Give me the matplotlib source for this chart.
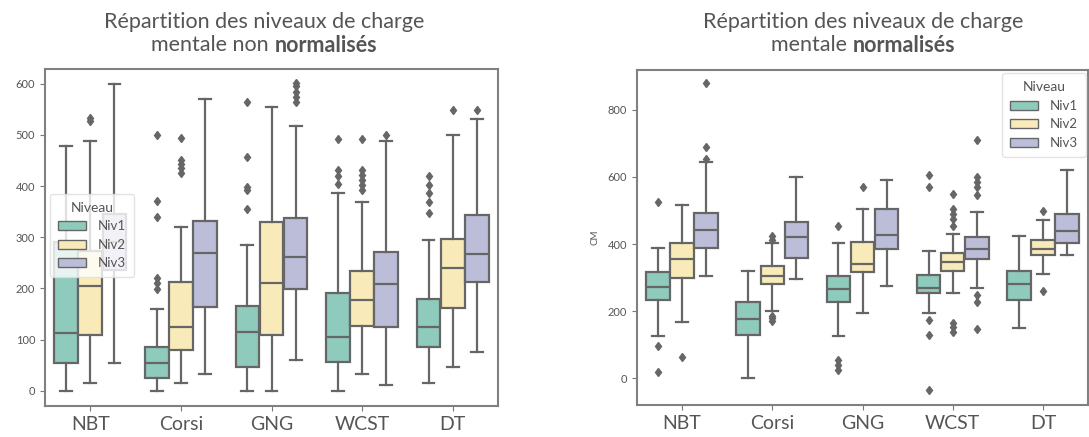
import matplotlib
matplotlib.use("Agg")
import matplotlib.pyplot as plt
from matplotlib.patches import Patch

# categories / levels
categories = ["NBT", "Corsi", "GNG", "WCST", "DT"]
levels = ["Niv1", "Niv2", "Niv3"]

# --- non normalised data (rows = Niv1, Niv2, Niv3 ; cols = categories) ---
raw_low = [[0, 0, 0, 0, 14],
           [14, 14, 0, 33, 46],
           [54, 33, 59, 12, 76]]
raw_q1 = [[54, 25, 47, 57, 85],
          [109, 80, 109, 127, 162],
          [235, 163, 199, 124, 212]]
raw_med = [[113, 54, 114, 105, 125],
           [204, 124, 210, 178, 240],
           [290, 270, 261, 209, 268]]
raw_q3 = [[290, 86, 165, 190, 179],
          [273, 212, 329, 234, 296],
          [345, 331, 338, 271, 343]]
raw_high = [[479, 160, 284, 386, 295],
            [488, 320, 554, 369, 500],
            [600, 570, 518, 488, 531]]
raw_fliers = [[[], [199, 210, 220, 340, 371, 500], [356, 392, 399, 457, 565], [405, 420, 432, 492], [348, 369, 386, 402, 420]],
              [[527, 533], [425, 435, 443, 452, 495], [], [392, 402, 412, 422, 431, 492], [549]],
              [[], [], [565, 575, 585, 595, 602], [500], [549]]]

# --- normalised data ---
norm_low = [[126, 0, 126, 194, 151],
            [169, 199, 194, 254, 310],
            [304, 297, 275, 269, 368]]
norm_q1 = [[234, 129, 226, 255, 234],
           [299, 282, 316, 321, 367],
           [389, 359, 386, 356, 403]]
norm_med = [[272, 176, 267, 268, 282],
            [356, 304, 341, 346, 385],
            [442, 421, 428, 385, 438]]
norm_q3 = [[317, 227, 306, 308, 320],
           [402, 334, 405, 374, 413],
           [492, 466, 503, 420, 490]]
norm_high = [[387, 321, 403, 378, 423],
             [516, 404, 505, 430, 473],
             [646, 601, 592, 497, 620]]
norm_fliers = [[[18, 96, 526], [], [25, 40, 54, 455], [-34, 129, 172, 571, 607], []],
               [[64], [170, 178, 186, 413, 423], [570], [139, 152, 164, 454, 474, 489, 504, 549], [260, 500]],
               [[654, 688, 879], [], [], [146, 227, 247, 545, 570, 585, 600, 710], []]]

palette = ["#8ecbbc", "#f9ebb9", "#bcbed9"]
line_col = "#666666"
text_col = "#555555"
plt.rcParams["font.family"] = ["Lato", "DejaVu Sans"]


def draw_boxes(ax, low, q1, med, q3, high, fliers):
    width = 0.8 / len(levels)
    for j in range(len(levels)):
        stats = []
        for i in range(len(categories)):
            stats.append(dict(whislo=low[j][i], q1=q1[j][i], med=med[j][i],
                              q3=q3[j][i], whishi=high[j][i], fliers=fliers[j][i]))
        pos = [i + (j - 1) * width for i in range(len(categories))]
        ax.bxp(stats, positions=pos, widths=width * 0.98, patch_artist=True,
               manage_ticks=False,
               boxprops=dict(facecolor=palette[j], edgecolor=line_col, linewidth=1.6),
               medianprops=dict(color=line_col, linewidth=1.6),
               whiskerprops=dict(color=line_col, linewidth=1.6),
               capprops=dict(color=line_col, linewidth=1.6),
               flierprops=dict(marker="d", markersize=4.5, markerfacecolor=line_col,
                               markeredgecolor=line_col))
    ax.set_xlim(-0.5, len(categories) - 0.5)
    ax.set_xticks(range(len(categories)))
    ax.set_xticklabels(categories, fontsize=14, color=text_col)
    ax.tick_params(axis="y", labelsize=8, labelcolor=text_col, color="#777777", length=3.5)
    ax.tick_params(axis="x", color="#777777", length=3.5)
    for sp in ax.spines.values():
        sp.set_color("#808080")
        sp.set_linewidth(1.5)


def legend(ax, **kw):
    handles = [Patch(facecolor=palette[j], edgecolor=line_col, linewidth=1.0, label=levels[j])
               for j in range(len(levels))]
    lg = ax.legend(handles=handles, title="Niveau", fontsize=9.5, title_fontsize=10,
                   borderaxespad=0, labelcolor=text_col, handlelength=2.1,
                   handletextpad=0.9, borderpad=0.6, **kw)
    lg.get_title().set_color(text_col)
    lg.get_frame().set_edgecolor("#dddddd")
    lg.set_zorder(10)


def two_part_title(fig, xc, y, plain, bold, size=15.5):
    r = fig.canvas.get_renderer()
    t1 = fig.text(0, y, plain, fontsize=size, color=text_col, ha="left", va="center")
    t2 = fig.text(0, y, bold, fontsize=size, color=text_col, ha="left", va="center",
                  fontweight="bold")
    w1 = t1.get_window_extent(r).width / fig.bbox.width
    w2 = t2.get_window_extent(r).width / fig.bbox.width
    x0 = xc - (w1 + w2) / 2
    t1.set_x(x0)
    t2.set_x(x0 + w1)


fig = plt.figure(figsize=(10.89, 4.37), dpi=100)
W, H = 1089, 437
ax1 = fig.add_axes([45 / W, 1 - 406 / H, 453 / W, 337 / H])
ax2 = fig.add_axes([637 / W, 1 - 405 / H, 451 / W, 335 / H])

draw_boxes(ax1, raw_low, raw_q1, raw_med, raw_q3, raw_high, raw_fliers)
ax1.set_ylim(-30, 629)
ax1.set_yticks(range(0, 601, 100))
legend(ax1, loc="upper left", bbox_to_anchor=(0.011, 0.63))

draw_boxes(ax2, norm_low, norm_q1, norm_med, norm_q3, norm_high, norm_fliers)
ax2.set_ylim(-80, 919)
ax2.set_yticks(range(0, 801, 200))
ax2.set_ylabel("CM", fontsize=7, color=text_col, labelpad=6)
legend(ax2, loc="upper right", bbox_to_anchor=(0.995, 0.99))

fig.text(264 / W, 1 - 22 / H, "Répartition des niveaux de charge", fontsize=15.5,
         color=text_col, ha="center", va="center")
two_part_title(fig, 264 / W, 1 - 45 / H, "mentale non ", "normalisés")
fig.text(863 / W, 1 - 22 / H, "Répartition des niveaux de charge", fontsize=15.5,
         color=text_col, ha="center", va="center")
two_part_title(fig, 863 / W, 1 - 45 / H, "mentale ", "normalisés")

fig.savefig("out.png", dpi=100)
